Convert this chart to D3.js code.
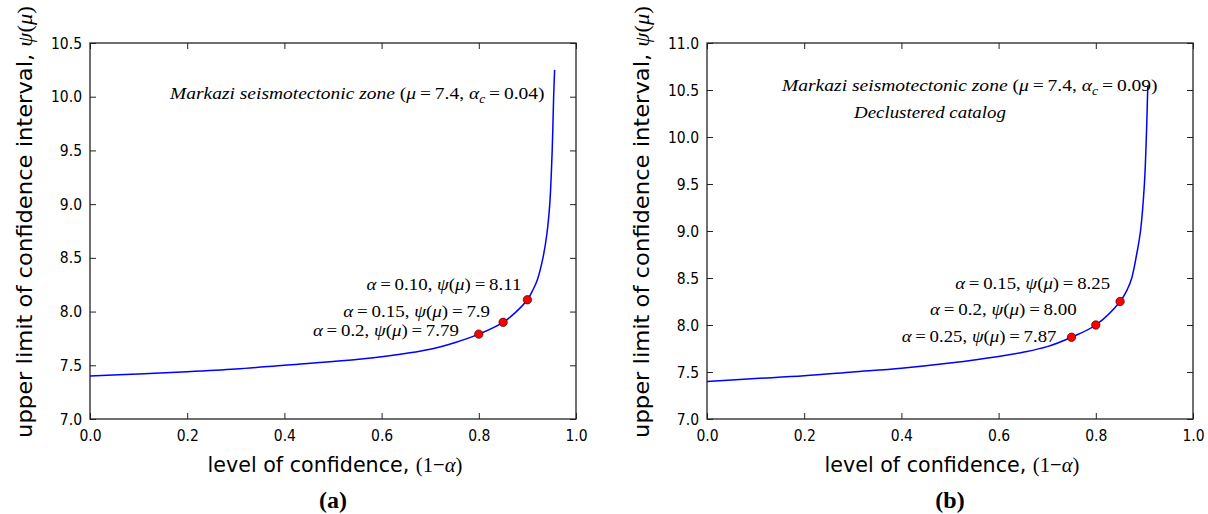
<!DOCTYPE html>
<html><head><meta charset="utf-8">
<script src="https://cdn.jsdelivr.net/npm/d3@7"></script>
<style>body{margin:0;background:#fff;} svg{display:block;background:#fff}</style>
</head><body><svg id="c" width="1208" height="514"></svg>
<script>
// ---------- data ----------
const xTicks = [0.0, 0.2, 0.4, 0.6, 0.8, 1.0];
const yTicksA = [7.0, 7.5, 8.0, 8.5, 9.0, 9.5, 10.0, 10.5];
const yTicksB = [7.0, 7.5, 8.0, 8.5, 9.0, 9.5, 10.0, 10.5, 11.0];

const confA = [0, 0.1, 0.2, 0.3, 0.4, 0.5, 0.6, 0.7, 0.75, 0.8, 0.85, 0.875, 0.9, 0.91, 0.92, 0.932, 0.94, 0.946, 0.951, 0.954, 0.956];
const psiA  = [7.40, 7.42, 7.44, 7.465, 7.50, 7.535, 7.58, 7.65, 7.71, 7.79, 7.90, 7.99, 8.11, 8.19, 8.29, 8.50, 8.72, 9.00, 9.50, 10.00, 10.25];

const confB = [0, 0.1, 0.2, 0.3, 0.4, 0.5, 0.6, 0.65, 0.7, 0.75, 0.8, 0.85, 0.865, 0.874, 0.884, 0.892, 0.9, 0.904, 0.907];
const psiB  = [7.40, 7.43, 7.46, 7.50, 7.54, 7.595, 7.665, 7.71, 7.77, 7.87, 8.00, 8.25, 8.38, 8.50, 8.75, 9.00, 9.50, 10.00, 10.55];

const markConfA  = [0.80, 0.85, 0.90];
const markPsiA   = [7.79, 7.90, 8.11];
const markAlphaA = ["0.2", "0.15", "0.10"];
const markTextA  = ["7.79", "7.9", "8.11"];

const markConfB  = [0.75, 0.80, 0.85];
const markPsiB   = [7.87, 8.00, 8.25];
const markAlphaB = ["0.25", "0.2", "0.15"];
const markTextB  = ["7.87", "8.00", "8.25"];

const zoneName = "Markazi seismotectonic zone";
const zoneMu   = ["7.4", "7.4"];
const zoneAc   = ["0.04", "0.09"];
const subNote  = ["", "Declustered catalog"];
const panelTag = ["(a)", "(b)"];
const xTitle = "level of confidence, ";
const yTitle = "upper limit of confidence interval, ";

// ---------- layout ----------
const SANS = "'DejaVu Sans', sans-serif";
const SERIF = "'Liberation Serif', 'DejaVu Serif', serif";
const plotTop = 43, plotBottom = 419;
const panels = [
  { x0: 90,  x1: 576,  yMax: 10.5, yTicks: yTicksA, conf: confA, psi: psiA,
    mc: markConfA, mp: markPsiA, ma: markAlphaA, mt: markTextA,
    annDx: [20, 13, 6], annDy: [-2, 5, 10], annW: [146, 147, 155],
    zone: { x0: 170, x1: 545, y: 99 }, note: null, ytx: 32, tagX: 333 },
  { x0: 707, x1: 1193, yMax: 11.0, yTicks: yTicksB, conf: confB, psi: psiB,
    mc: markConfB, mp: markPsiB, ma: markAlphaB, mt: markTextB,
    annDx: [15, 19, 10], annDy: [-5, 10, 13], annW: [155, 147, 155],
    zone: { x0: 782, x1: 1158, y: 91 }, note: { x0: 854, x1: 1006, y: 118 }, ytx: 649, tagX: 950 }
];

const svg = d3.select("#c");

// text made of styled runs, fitted to a target width by a horizontal scale
function mathText(parent, x, y, anchor, segs, size, family, width, rot) {
  const t = parent.append("text")
    .attr("x", 0).attr("y", 0).attr("text-anchor", anchor)
    .style("font-family", family).style("font-size", size + "px").attr("fill", "#000");
  let shifted = 0;
  segs.forEach(([s, st]) => {
    const ts = t.append("tspan").text(s);
    if (st.includes("F")) ts.style("font-family", SERIF);
    if (st.includes("i")) ts.style("font-style", "italic");
    if (st.includes("s")) {
      ts.style("font-size", (size * 0.7) + "px").attr("dy", 4); shifted = 4;
    } else if (shifted) { ts.attr("dy", -shifted); shifted = 0; }
  });
  const w = t.node().getComputedTextLength();
  const k = width ? width / w : 1;
  t.attr("transform", `translate(${x},${y})${rot ? ` rotate(${rot})` : ""} scale(${k.toFixed(4)},1)`);
  return t;
}

panels.forEach((p, pi) => {
  const sx = d3.scaleLinear().domain([0, 1]).range([p.x0, p.x1]);
  const sy = d3.scaleLinear().domain([7, p.yMax]).range([plotBottom, plotTop]);
  const g = svg.append("g");
  const fmt = d3.format(".1f");

  const ax = [
    g.append("g").attr("transform", `translate(0,${plotBottom})`)
      .call(d3.axisBottom(sx).tickValues(xTicks).tickFormat(fmt).tickSize(-6).tickPadding(10.5)),
    g.append("g").attr("transform", `translate(0,${plotTop})`)
      .call(d3.axisTop(sx).tickValues(xTicks).tickFormat("").tickSize(-6)),
    g.append("g").attr("transform", `translate(${p.x0},0)`)
      .call(d3.axisLeft(sy).tickValues(p.yTicks).tickFormat(fmt).tickSize(-6).tickPadding(8)),
    g.append("g").attr("transform", `translate(${p.x1},0)`)
      .call(d3.axisRight(sy).tickValues(p.yTicks).tickFormat("").tickSize(-6))
  ];
  ax.forEach(a => {
    a.select(".domain").remove();
    a.selectAll(".tick line").attr("stroke", "#222").attr("stroke-width", 1);
    a.selectAll(".tick text").attr("fill", "#000").attr("class", "sq")
      .style("font-family", SANS).style("font-size", "16px");
  });

  g.append("rect").attr("x", p.x0).attr("y", plotTop)
    .attr("width", p.x1 - p.x0).attr("height", plotBottom - plotTop)
    .attr("fill", "none").attr("stroke", "#222").attr("stroke-width", 1.3);

  const pts = p.conf.map((c, i) => [c, p.psi[i]]);
  g.append("path").datum(pts)
    .attr("d", d3.line().x(d => sx(d[0])).y(d => sy(d[1])).curve(d3.curveCatmullRom.alpha(0.5)))
    .attr("fill", "none").attr("stroke", "#0000ff").attr("stroke-width", 1.5);

  p.mc.forEach((c, i) => {
    mathText(g, sx(c) - p.annDx[i], sy(p.mp[i]) - p.annDy[i], "end",
      [["α", "i"], ["\u2009=\u2009" + p.ma[i] + ", ", ""], ["ψ", "i"], ["(", ""], ["μ", "i"], [")\u2009=\u2009" + p.mt[i], ""]],
      16.5, SERIF, p.annW[i]);
  });
  g.selectAll("circle.m").data(p.mc.map((c, i) => [c, p.mp[i]])).enter()
    .append("circle").attr("class", "m")
    .attr("cx", d => sx(d[0])).attr("cy", d => sy(d[1])).attr("r", 4.2)
    .attr("fill", "#ff0000").attr("stroke", "#400").attr("stroke-width", 0.7);

  mathText(g, p.zone.x0, p.zone.y, "start",
    [[zoneName + " ", "i"], ["(", ""], ["μ", "i"], ["\u2009=\u2009" + zoneMu[pi] + ", ", ""], ["α", "i"], ["c", "is"], ["\u2009=\u2009" + zoneAc[pi] + ")", ""]],
    17, SERIF, p.zone.x1 - p.zone.x0);
  if (p.note) {
    mathText(g, p.note.x0, p.note.y, "start", [[subNote[pi], "i"]], 17, SERIF, p.note.x1 - p.note.x0);
  }

  const cx = (p.x0 + p.x1) / 2;
  mathText(g, cx + 2, 472, "middle",
    [[xTitle, ""], ["(1−", "F"], ["α", "Fi"], [")", "F"]], 22, SANS, 255);
  mathText(g, p.ytx, 222, "middle",
    [[yTitle, ""], ["ψ", "Fi"], ["(", "F"], ["μ", "Fi"], [")", "F"]], 22, SANS, 432, -90);

  g.append("text").attr("x", p.tagX).attr("y", 508).attr("text-anchor", "middle")
    .style("font-family", SERIF).style("font-size", "24px").style("font-weight", "bold")
    .attr("fill", "#000").text(panelTag[pi]);
});

svg.selectAll("text.sq").each(function () {
  const w = this.getComputedTextLength();
  this.setAttribute("textLength", (w * 0.87).toFixed(2));
  this.setAttribute("lengthAdjust", "spacingAndGlyphs");
});
</script>
</body></html>
